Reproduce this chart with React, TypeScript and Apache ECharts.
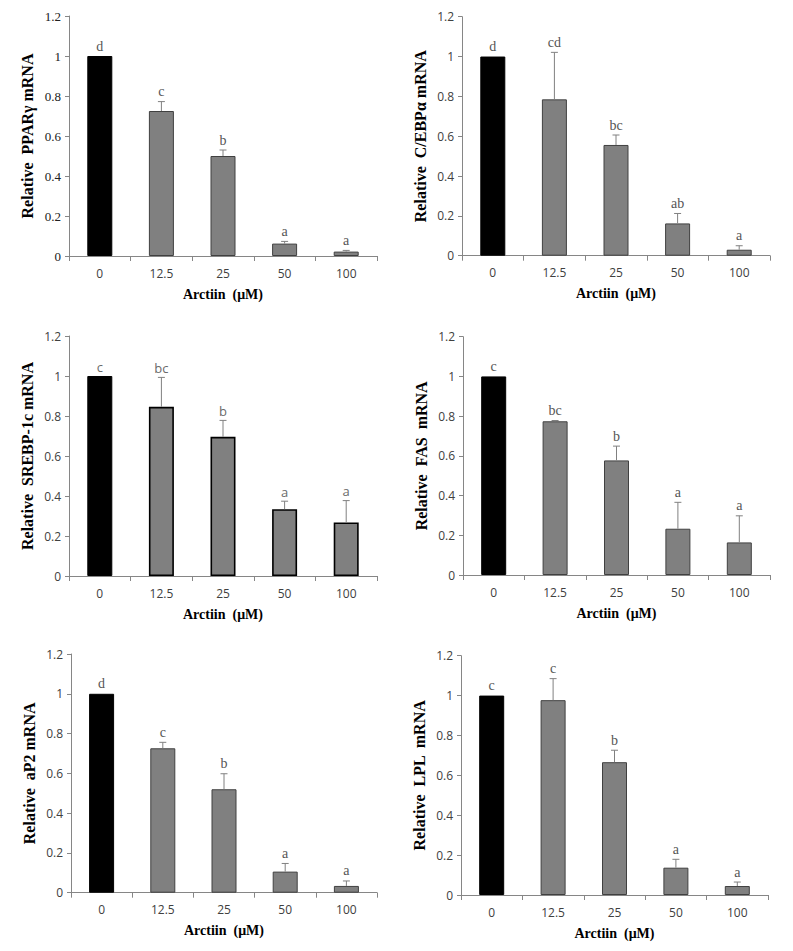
import React, { useEffect, useRef } from "react";
import * as echarts from "echarts";

const categories = ["0", "12.5", "25", "50", "100"];

const pparMean = [1, 0.725, 0.5, 0.062, 0.022];
const pparTop = [1, 0.772, 0.53, 0.073, 0.028];
const pparLetters = ["d", "c", "b", "a", "a"];

const cebpMean = [1, 0.785, 0.556, 0.162, 0.03];
const cebpTop = [1, 1.021, 0.606, 0.212, 0.05];
const cebpLetters = ["d", "cd", "bc", "ab", "a"];

const srebpMean = [1, 0.846, 0.696, 0.334, 0.268];
const srebpTop = [1, 0.993, 0.778, 0.374, 0.377];
const srebpLetters = ["c", "bc", "b", "a", "a"];

const fasMean = [1, 0.774, 0.577, 0.233, 0.164];
const fasTop = [1, 0.778, 0.649, 0.366, 0.298];
const fasLetters = ["c", "bc", "b", "a", "a"];

const ap2Mean = [1, 0.726, 0.52, 0.106, 0.034];
const ap2Top = [1, 0.756, 0.598, 0.147, 0.059];
const ap2Letters = ["d", "c", "b", "a", "a"];

const lplMean = [1, 0.977, 0.666, 0.137, 0.045];
const lplTop = [1, 1.085, 0.726, 0.179, 0.065];
const lplLetters = ["c", "c", "b", "a", "a"];

const yTitles = [
  "Relative  PPARγ mRNA",
  "Relative  C/EBPα mRNA",
  "Relative  SREBP-1c mRNA",
  "Relative  FAS  mRNA",
  "Relative  aP2 mRNA",
  "Relative  LPL  mRNA",
];
const xTitle = "Arctiin  (μM)";

const SERIF = "'Liberation Serif', 'Times New Roman', serif";
const SANS = "'Open Sans', 'Liberation Sans', sans-serif";

export default function App() {
  const ref = useRef<HTMLDivElement>(null);

  useEffect(() => {
    if (!ref.current) return;
    const chart = echarts.init(ref.current, undefined, { renderer: "svg" });

    const panels = [
      { mean: pparMean, top: pparTop, letters: pparLetters, grid: { left: 69, top: 16, width: 308, height: 240 }, ySerif: true, letterSans: false, border: "#404040", bw: 1 },
      { mean: cebpMean, top: cebpTop, letters: cebpLetters, grid: { left: 462, top: 16.7, width: 308, height: 239 }, ySerif: false, letterSans: false, border: "#404040", bw: 1 },
      { mean: srebpMean, top: srebpTop, letters: srebpLetters, grid: { left: 69, top: 336, width: 308, height: 240 }, ySerif: false, letterSans: true, border: "#000000", bw: 1.6 },
      { mean: fasMean, top: fasTop, letters: fasLetters, grid: { left: 463, top: 336.7, width: 307, height: 238.3 }, ySerif: false, letterSans: false, border: "#404040", bw: 1 },
      { mean: ap2Mean, top: ap2Top, letters: ap2Letters, grid: { left: 71, top: 654, width: 306, height: 238.7 }, ySerif: false, letterSans: false, border: "#404040", bw: 1 },
      { mean: lplMean, top: lplTop, letters: lplLetters, grid: { left: 461, top: 655.7, width: 307, height: 239.3 }, ySerif: false, letterSans: false, border: "#404040", bw: 1 },
    ];

    const axisColor = "#868686";

    const grid = panels.map((p) => ({ ...p.grid, containLabel: false }));
    const xAxis = panels.map((p, i) => ({
      type: "category",
      gridIndex: i,
      data: categories,
      boundaryGap: true,
      axisLine: { show: true, lineStyle: { color: axisColor, width: 1 } },
      axisTick: { show: true, alignWithLabel: false, length: 5, lineStyle: { color: axisColor } },
      axisLabel: { show: true, margin: 11, color: "#404040", fontFamily: SANS, fontSize: 12 },
      name: xTitle,
      nameLocation: "middle",
      nameGap: 31,
      nameTextStyle: { fontFamily: SERIF, fontWeight: "bold", fontSize: 14, color: "#000" },
      splitLine: { show: false },
    }));
    const yAxis = panels.map((p, i) => ({
      type: "value",
      gridIndex: i,
      min: 0,
      max: 1.2,
      interval: 0.2,
      axisLine: { show: true, lineStyle: { color: axisColor, width: 1 } },
      axisTick: { show: true, length: 4, lineStyle: { color: axisColor } },
      axisLabel: {
        show: true,
        margin: 8,
        color: p.ySerif ? "#202020" : "#404040",
        fontFamily: p.ySerif ? SERIF : SANS,
        fontSize: p.ySerif ? 13 : 12,
      },
      splitLine: { show: false },
      name: yTitles[i],
      nameLocation: "middle",
      nameRotate: 90,
      nameGap: 34,
      nameTextStyle: { fontFamily: SERIF, fontWeight: "bold", fontSize: 16, color: "#000" },
    }));

    const series: any[] = [];
    panels.forEach((p, i) => {
      series.push({
        type: "bar",
        xAxisIndex: i,
        yAxisIndex: i,
        barWidth: 25,
        data: p.mean.map((v, k) => ({
          value: v,
          itemStyle:
            k === 0
              ? { color: "#000000", borderColor: "#000000", borderWidth: 1 }
              : { color: "#808080", borderColor: p.border, borderWidth: p.bw },
        })),
        z: 2,
      });
      series.push({
        type: "custom",
        xAxisIndex: i,
        yAxisIndex: i,
        z: 5,
        data: p.mean.map((v, k) => [k, v, p.top[k]]),
        renderItem: (params: any, api: any) => {
          const k = api.value(0);
          const m = api.value(1);
          const t = api.value(2);
          const p0 = api.coord([k, m]);
          const p1 = api.coord([k, t]);
          const children: any[] = [];
          if (p0[1] - p1[1] > 0.5) {
            children.push({
              type: "line",
              shape: { x1: p0[0], y1: p0[1], x2: p1[0], y2: p1[1] },
              style: { stroke: "#808080", lineWidth: 1 },
            });
            children.push({
              type: "line",
              shape: { x1: p1[0] - 3.5, y1: p1[1], x2: p1[0] + 3.5, y2: p1[1] },
              style: { stroke: "#808080", lineWidth: 1 },
            });
          }
          children.push({
            type: "text",
            x: p1[0],
            y: Math.min(p0[1], p1[1]) - 3,
            style: {
              text: p.letters[params.dataIndex],
              fill: p.letterSans ? "#6a6a6a" : "#555555",
              font: p.letterSans ? `13px ${SANS}` : `14px ${SERIF}`,
              align: "center",
              verticalAlign: "bottom",
            },
          });
          return { type: "group", children };
        },
      });
    });

    chart.setOption({
      animation: false,
      backgroundColor: "#ffffff",
      grid,
      xAxis,
      yAxis,
      series,
    });

    return () => chart.dispose();
  }, []);

  return (
    <div
      ref={ref}
      style={{ position: "absolute", left: 0, top: 0, width: 793, height: 951, background: "#fff" }}
    />
  );
}
